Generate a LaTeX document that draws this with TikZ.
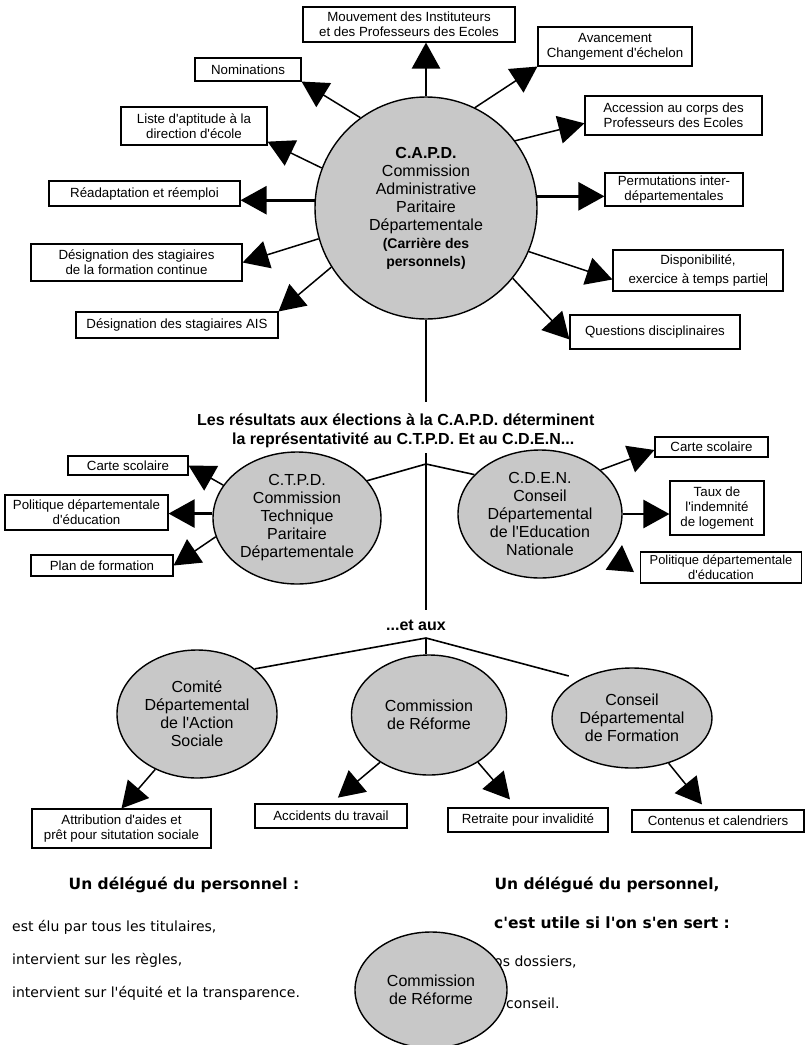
\documentclass[tikz,border=0pt]{standalone}
\usepackage{fontspec}
\setmainfont{Liberation Sans}[Ligatures=TeXOff]
\newfontfamily\comicfont{DejaVu Sans}
\usetikzlibrary{arrows.meta,shapes.geometric}
\definecolor{ovalgray}{RGB}{200,200,200}
\newcommand\capdsmall{\bfseries\fontsize{14}{17}\selectfont}
\begin{document}
\begin{tikzpicture}[x=1pt,y=-1pt,
  box/.style={draw, line width=1.1pt, fill=white, inner sep=0pt, align=center,
    font=\fontsize{13.3}{14.8}\selectfont},
  oval/.style={draw, line width=1.4pt, fill=ovalgray, ellipse, inner sep=0pt, align=center,
    font=\fontsize{16}{18}\selectfont},
  conn/.style={line width=1.5pt, -{Triangle[length=26pt,width=28pt]}},
  thickconn/.style={conn, line width=2.6pt},
  treeline/.style={line width=1.6pt},
  headline/.style={inner sep=0pt, font=\bfseries\fontsize{16}{19}\selectfont},
  comic/.style={inner sep=0pt, font=\comicfont\fontsize{14}{16}\selectfont},
  comicbold/.style={inner sep=0pt, font=\comicfont\bfseries\fontsize{15.5}{18}\selectfont}
]
\useasboundingbox (0,0) rectangle (805,1045);

% ---- C.A.P.D. ----
\node[oval, circle, minimum size=222pt] (capd) at (426,208)
  {\textbf{C.A.P.D.}\\Commission\\Administrative\\Paritaire\\Départementale\\{\capdsmall (Carrière des}\\{\capdsmall personnels)}};

\node[box, minimum width=212pt, minimum height=35pt] (mouv) at (409,24.5) {Mouvement des Instituteurs\\et des Professeurs des Ecoles};
\node[box, minimum width=106pt, minimum height=23pt] (nomin) at (248,69.5) {Nominations};
\node[box, minimum width=146pt, minimum height=38pt] (liste) at (194,126) {Liste d'aptitude à la\\direction d'école};
\node[box, minimum width=191pt, minimum height=25pt] (readapt) at (144.5,193.5) {Réadaptation et réemploi};
\node[box, minimum width=211pt, minimum height=37pt] (desig) at (136.5,262.5) {Désignation des stagiaires\\de la formation continue};
\node[box, minimum width=202pt, minimum height=26pt] (ais) at (177,325) {Désignation des stagiaires AIS};
\node[box, minimum width=154pt, minimum height=39pt] (avanc) at (615,46.5) {Avancement\\Changement d'échelon};
\node[box, minimum width=177pt, minimum height=39pt] (access) at (673.5,115.5) {Accession au corps des\\Professeurs des Ecoles};
\node[box, minimum width=138pt, minimum height=33pt] (permut) at (674,189.5) {Permutations inter-\\départementales};
\node[box, minimum width=170pt, minimum height=41pt] (dispo) at (698,270.5) {Disponibilité,\\[5pt]exercice à temps partie\rule[-2pt]{1.4pt}{13pt}};
\node[box, minimum width=170pt, minimum height=34pt] (quest) at (655,332) {Questions disciplinaires};

\draw[thickconn] (capd.north) -- (capd.north |- mouv.south);
\draw[conn] (capd.64) -- (avanc.south west);
\draw[conn] (capd.37) -- (access.185);
\draw[thickconn] (capd.6) -- (capd.6 -| permut.west);
\draw[conn] (capd.-23) -- (dispo.186);
\draw[conn] (capd.-39) -- (quest.185);
\draw[conn] (capd.126) -- (nomin.south east);
\draw[conn] (capd.159) -- (liste.-12);
\draw[thickconn] (capd.176) -- (capd.176 -| readapt.east);
\draw[conn] (capd.196) -- (desig.east);
\draw[conn] (capd.212) -- (ais.north east);

% ---- headline and first tree ----
\node[headline, align=left, anchor=west] (title) at (197,431)
  {Les résultats aux élections à la C.A.P.D. déterminent\\\hspace*{35pt}la représentativité au C.T.P.D. Et au C.D.E.N...};

\coordinate (v1) at (426,402);
\coordinate (v2) at (426,453);
\coordinate (a1) at (426,464);
\coordinate (v3) at (426,610);
\coordinate (a2) at (426,638);
\draw[treeline] (capd.south) -- (v1);
\draw[treeline] (v2) -- (v3);

\node[oval, minimum width=168pt, minimum height=132pt] (ctpd) at (297,518)
  {C.T.P.D.\\Commission\\Technique\\Paritaire\\Départementale};
\node[oval, minimum width=164pt, minimum height=128pt] (cden) at (540,514)
  {C.D.E.N.\\Conseil\\Départemental\\de l'Education\\Nationale};
\draw[treeline] (a1) -- (ctpd.28);
\draw[treeline] (a1) -- (cden.149);

\node[box, minimum width=120pt, minimum height=19pt] (ctcarte) at (128,465.5) {Carte scolaire};
\node[box, minimum width=163pt, minimum height=35pt] (ctpol) at (86.5,512.5) {Politique départementale\\d'éducation};
\node[box, minimum width=142pt, minimum height=21pt] (ctplan) at (102,565.5) {Plan de formation};
\draw[conn] (ctpd.156) -- (ctcarte.east);
\draw[thickconn] (ctpd.177) -- (ctpd.177 -| ctpol.east);
\draw[conn] (ctpd.193) -- (ctplan.east);

\node[box, minimum width=113pt, minimum height=20pt] (cdcarte) at (711.5,447) {Carte scolaire};
\node[box, minimum width=94pt, minimum height=54pt] (taux) at (717,508) {Taux de\\l'indemnité\\de logement};
\node[box, minimum width=161pt, minimum height=31pt, font=\fontsize{12.9}{14.5}\selectfont] (cdpol) at (721,567.5) {Politique départementale\\d'éducation};
\draw[conn] (cden.36) -- (cdcarte.183);
\draw[thickconn] (cden.east) -- (cden.east -| taux.west);
\coordinate (cdp1) at (620,569);
\coordinate (cdp2) at (622,545);
\draw[conn] (cdp1) -- (cdp2);

% ---- second tree ----
\node[headline] (etaux) at (416,625) {...et aux};

\node[oval, minimum width=160pt, minimum height=128pt] (comite) at (197,714)
  {Comité\\Départemental\\de l'Action\\Sociale};
\node[oval, minimum width=155pt, minimum height=120pt] (reforme) at (429,715)
  {Commission\\de Réforme};
\node[oval, minimum width=160pt, minimum height=100pt] (conseil) at (632,718)
  {Conseil\\Départemental\\de Formation};
\draw[treeline] (a2) -- (comite.38);
\draw[treeline, shorten >=12pt] (a2) -- (conseil.143);
\draw[treeline] (a2) -- (a2 |- reforme.north);

\node[box, minimum width=179pt, minimum height=39pt] (attrib) at (121.5,828.5) {Attribution d'aides et\\prêt pour situtation sociale};
\node[box, minimum width=152pt, minimum height=24pt] (accid) at (331,816) {Accidents du travail};
\node[box, minimum width=160pt, minimum height=24pt] (retraite) at (528,820) {Retraite pour invalidité};
\node[box, minimum width=172pt, minimum height=22pt] (contenus) at (718,821) {Contenus et calendriers};
\draw[conn] (comite.233) -- (attrib.north);
\draw[conn, shorten >=9pt] (reforme.224) -- (accid.north);
\draw[conn] (reforme.-44) -- ([shift={(-18pt,8pt)}]retraite.north);
\draw[conn] (conseil.-51) -- ([shift={(-16pt,5pt)}]contenus.north);

% ---- bottom texts ----
\node[comicbold] (dl1) at (184,885) {Un délégué du personnel :};
\node[comic, anchor=west] (dl2) at (12,927) {est élu par tous les titulaires,};
\node[comic, anchor=west] (dl3) at (12,960) {intervient sur les règles,};
\node[comic, anchor=west] (dl4) at (12,993) {intervient sur l'équité et la transparence.};
\node[comicbold] (dr1) at (607,885) {Un délégué du personnel,};
\node[comicbold] (dr2) at (612,923) {c'est utile si l'on s'en sert :};
\node[comic, anchor=west] (dr3) at (494,962) {os dossiers,};
\node[comic, anchor=west] (dr4) at (506,1003) {conseil.};
\node[oval, minimum width=152pt, minimum height=116pt] (reforme2) at (431,990)
  {Commission\\de Réforme};
\end{tikzpicture}
\end{document}
